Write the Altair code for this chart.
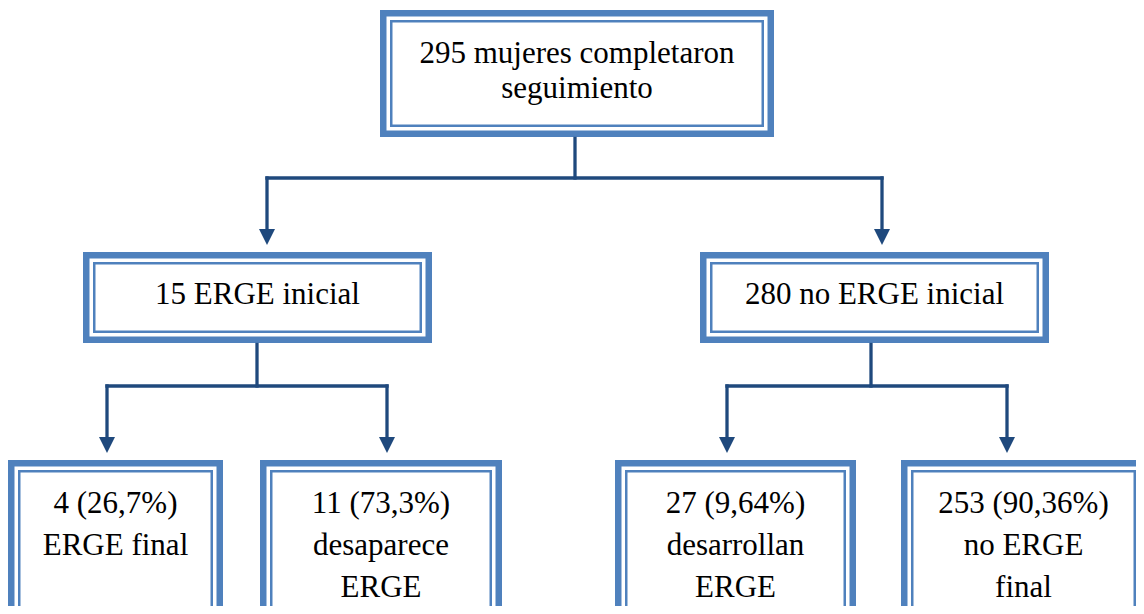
import altair as alt
import pandas as pd

# ---------------- data ----------------
box_ids = ["total", "erge_ini", "no_erge_ini", "erge_final",
           "desaparece", "desarrollan", "no_erge_final"]
box_lines = [
    ["295 mujeres completaron", "seguimiento"],
    ["15 ERGE inicial"],
    ["280 no ERGE inicial"],
    ["4 (26,7%)", "ERGE final"],
    ["11 (73,3%)", "desaparece", "ERGE"],
    ["27 (9,64%)", "desarrollan", "ERGE"],
    ["253 (90,36%)", "no  ERGE", "final"],
]
edge_parent = ["total", "total", "erge_ini", "erge_ini", "no_erge_ini", "no_erge_ini"]
edge_child = ["erge_ini", "no_erge_ini", "erge_final", "desaparece", "desarrollan", "no_erge_final"]

# ---------------- layout (page pixels) ----------------
box_pos = {  # x0, x1, y0, y1
    "total": (380, 774, 10, 137),
    "erge_ini": (83, 432, 252, 343),
    "no_erge_ini": (700, 1049, 252, 343),
    "erge_final": (8, 223, 460, 700),
    "desaparece": (260, 502, 460, 700),
    "desarrollan": (615, 856, 460, 700),
    "no_erge_final": (901, 1146, 460, 700),
}
text_pos = {  # first baseline, line spacing
    "total": (63, 35),
    "erge_ini": (304, 42),
    "no_erge_ini": (304, 42),
    "erge_final": (513, 42),
    "desaparece": (513, 42),
    "desarrollan": (513, 42),
    "no_erge_final": (513, 42),
}
trunk_x = {"total": 575, "erge_ini": 257, "no_erge_ini": 871}
bar_y = {"total": 178, "erge_ini": 386, "no_erge_ini": 386}
arrow_x = {"erge_ini": 267, "no_erge_ini": 882, "erge_final": 107,
           "desaparece": 387, "desarrollan": 727, "no_erge_final": 1007}
tip_y = {"erge_ini": 245, "no_erge_ini": 245, "erge_final": 453,
         "desaparece": 453, "desarrollan": 453, "no_erge_final": 453}

BLUE = "#4F81BD"
NAVY = "#1F497D"
OUTER, GAP, THIN = 6.5, 3.5, 2.5
ARROW = 16
FONT = "Liberation Serif"

# ---------------- build tables ----------------
def rect_layer(inset):
    rows = []
    for b in box_ids:
        x0, x1, y0, y1 = box_pos[b]
        rows.append({"x": x0 + inset, "x2": x1 - inset, "y": y0 + inset, "y2": y1 - inset})
    return pd.DataFrame(rows)

text_rows = []
for b, lines in zip(box_ids, box_lines):
    x0, x1, _, _ = box_pos[b]
    base, step = text_pos[b]
    for i, t in enumerate(lines):
        text_rows.append({"x": (x0 + x1) / 2, "y": base + i * step, "t": t})
text_df = pd.DataFrame(text_rows)

seg_rows = []
for p in trunk_x:
    y_bottom = box_pos[p][3]
    seg_rows.append({"x": trunk_x[p], "x2": trunk_x[p], "y": y_bottom + 1.5, "y2": bar_y[p]})
    kids = [c for pp, c in zip(edge_parent, edge_child) if pp == p]
    xs_ = [arrow_x[c] for c in kids]
    seg_rows.append({"x": min(xs_), "x2": max(xs_), "y": bar_y[p], "y2": bar_y[p]})
    for c in kids:
        seg_rows.append({"x": arrow_x[c], "x2": arrow_x[c], "y": bar_y[p], "y2": tip_y[c] - ARROW + 1})
seg_df = pd.DataFrame(seg_rows)

arrow_df = pd.DataFrame([{"x": arrow_x[c], "y": tip_y[c] - ARROW / 2} for c in edge_child])

# ---------------- scales ----------------
W, H = 1128, 598
xs = alt.Scale(domain=[8, 8 + W], range=[0, W], nice=False, zero=False)
ys = alt.Scale(domain=[8, 8 + H], range=[0, H], nice=False, zero=False)
X = lambda f="x": alt.X(f"{f}:Q", scale=xs, axis=None)
Y = lambda f="y": alt.Y(f"{f}:Q", scale=ys, axis=None)

layers = []
for inset, color in [(0, BLUE), (OUTER, "white"), (OUTER + GAP, BLUE), (OUTER + GAP + THIN, "white")]:
    layers.append(
        alt.Chart(rect_layer(inset)).mark_rect(color=color, clip=True).encode(
            x=X(), x2="x2:Q", y=Y(), y2="y2:Q")
    )

layers.append(
    alt.Chart(seg_df).mark_rule(color=NAVY, strokeWidth=3.3, strokeCap="square").encode(
        x=X(), x2="x2:Q", y=Y(), y2="y2:Q")
)
layers.append(
    alt.Chart(arrow_df).mark_point(
        shape="M-1,-1L1,-1L0,1Z", size=ARROW * ARROW, filled=True,
        color=NAVY, opacity=1, strokeWidth=0
    ).encode(x=X(), y=Y())
)
layers.append(
    alt.Chart(text_df).mark_text(
        font=FONT, fontSize=31, color="#000000",
        align="center", baseline="alphabetic"
    ).encode(x=X(), y=Y(), text="t:N")
)

chart = alt.layer(*layers).properties(
    width=W, height=H, padding=0, autosize=alt.AutoSizeParams(type="none")
).configure_view(stroke=None)

chart.save("out.html", embed_options={"renderer": "svg", "actions": False})
